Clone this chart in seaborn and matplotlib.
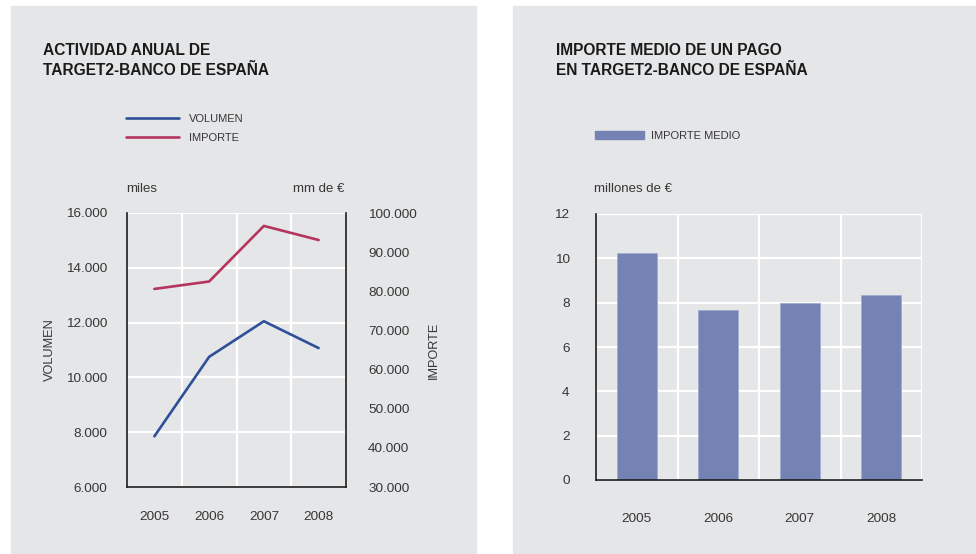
import matplotlib.pyplot as plt
import pandas as pd
import seaborn as sns
from matplotlib.patches import Patch, Rectangle

# data
years = [2005, 2006, 2007, 2008]
volumen = [7850, 10750, 12050, 11070]  # miles
importe = [80600, 82500, 96700, 93100]  # mm de euros
importe_medio = [10.25, 7.65, 7.98, 8.36]  # millones de euros

vol_ticks = [6000, 8000, 10000, 12000, 14000, 16000]
imp_ticks = [30000, 40000, 50000, 60000, 70000, 80000, 90000, 100000]
medio_ticks = [0, 2, 4, 6, 8, 10, 12]

W, H = 976, 554
PANEL = "#e5e6e8"
BLUE = "#2f4f99"
RED = "#b5355f"
BAR = "#7483b4"
TXT = "#363636"


def fmt(v):
    return f"{v:,.0f}".replace(",", ".")


def fx(px):
    return px / W


def fy(py):
    return 1 - py / H


sns.set_style("white")
plt.rcParams["font.family"] = ["Liberation Sans", "DejaVu Sans"]

fig = plt.figure(figsize=(W / 100, H / 100), dpi=100)

# grey panels
for x0, w in [(11, 465), (513, 463)]:
    fig.add_artist(Rectangle((fx(x0), fy(553)), w / W, 547 / H,
                             transform=fig.transFigure, color=PANEL, zorder=0))

# ---- left: actividad anual ----
df = pd.DataFrame({"year": years, "volumen": volumen, "importe": importe})

ax = fig.add_axes([fx(127), fy(487), 219 / W, 274 / H])
ax.set_facecolor(PANEL)
sns.lineplot(data=df, x="year", y="volumen", ax=ax, color=BLUE, lw=1.9)
ax.set_xlim(2004.5, 2008.5)
ax.set_ylim(6000, 16000)
ax.set_xticks(years)
ax.set_xticks([2005.5, 2006.5, 2007.5], minor=True)
ax.set_yticks(vol_ticks, [fmt(v) for v in vol_ticks])
ax.grid(axis="y", which="major", color="white", lw=1.6)
ax.grid(axis="x", which="minor", color="white", lw=1.6)
ax.tick_params(which="both", length=0, labelsize=9.7, labelcolor=TXT)
ax.tick_params(axis="y", pad=14)
ax.tick_params(axis="x", pad=17)
ax.set_xlabel("")
ax.set_ylabel("VOLUMEN", fontsize=9.2, color=TXT, va="center")
ax.yaxis.set_label_coords(-0.352, 0.5)
for s in ["left", "bottom"]:
    ax.spines[s].set_color("#1e1e1e")
    ax.spines[s].set_linewidth(1.2)
ax.spines["top"].set_visible(False)
ax.spines["right"].set_visible(False)

ax2 = ax.twinx()
sns.lineplot(data=df, x="year", y="importe", ax=ax2, color=RED, lw=1.9)
ax2.set_ylim(30000, 100000)
ax2.set_yticks(imp_ticks, [fmt(v) for v in imp_ticks])
ax2.tick_params(axis="y", length=0, pad=16, labelsize=9.7, labelcolor=TXT)
ax2.set_ylabel("IMPORTE", fontsize=9.2, color=TXT, va="center", rotation=90)
ax2.yaxis.set_label_coords(1.40, 0.5)
for s in ["left", "top", "bottom"]:
    ax2.spines[s].set_visible(False)
ax2.spines["right"].set_color("#1e1e1e")
ax2.spines["right"].set_linewidth(1.2)

ax.legend(handles=[ax.lines[0], ax2.lines[0]], labels=["VOLUMEN", "IMPORTE"],
          loc="center left", bbox_to_anchor=(fx(126), fy(128.5)),
          bbox_transform=fig.transFigure, frameon=False, fontsize=8,
          labelcolor=TXT, handlelength=4.8, handletextpad=0.9,
          labelspacing=0.85, borderpad=0, borderaxespad=0)

fig.text(fx(43), fy(43), "ACTIVIDAD ANUAL DE\nTARGET2-BANCO DE ESPAÑA",
         fontsize=11.2, fontweight="bold", color="#1a1a1a", va="top",
         linespacing=1.45)
fig.text(fx(126), fy(191.5), "miles", fontsize=9.5, color=TXT, va="baseline")
fig.text(fx(344), fy(191.5), "mm de €", fontsize=9.5, color=TXT,
         va="baseline", ha="right")

# ---- right: importe medio ----
dfm = pd.DataFrame({"year": [str(y) for y in years], "medio": importe_medio})

bx = fig.add_axes([fx(596), fy(480), 326 / W, 266 / H])
bx.set_facecolor(PANEL)
bx.set_axisbelow(True)
sns.barplot(data=dfm, x="year", y="medio", ax=bx, color=BAR, saturation=1,
            width=0.49, edgecolor="#a3add0", linewidth=0.7)
bx.set_xlim(-0.5, 3.5)
bx.set_ylim(0, 12)
bx.set_yticks(medio_ticks, [str(v) for v in medio_ticks])
bx.set_xticks([0.5, 1.5, 2.5, 3.5], minor=True)
bx.grid(axis="y", which="major", color="white", lw=1.6)
bx.grid(axis="x", which="minor", color="white", lw=1.6)
bx.tick_params(which="both", length=0, labelsize=9.7, labelcolor=TXT)
bx.tick_params(axis="y", pad=19)
bx.tick_params(axis="x", pad=24)
bx.set_xlabel("")
bx.set_ylabel("")
for s in ["left", "bottom"]:
    bx.spines[s].set_color("#1e1e1e")
    bx.spines[s].set_linewidth(1.2)
bx.spines["top"].set_visible(False)
bx.spines["right"].set_visible(False)

bx.legend(handles=[Patch(color=BAR, label="IMPORTE MEDIO")],
          loc="center left", bbox_to_anchor=(fx(595), fy(136)),
          bbox_transform=fig.transFigure, frameon=False, fontsize=8,
          labelcolor=TXT, handlelength=4.4, handleheight=0.7,
          handletextpad=0.6, borderpad=0, borderaxespad=0)

fig.text(fx(556), fy(43), "IMPORTE MEDIO DE UN PAGO\nEN TARGET2-BANCO DE ESPAÑA",
         fontsize=11.2, fontweight="bold", color="#1a1a1a", va="top",
         linespacing=1.45)
fig.text(fx(594), fy(191.5), "millones de €", fontsize=9.5, color=TXT,
         va="baseline")

fig.savefig("out.png", dpi=100)
